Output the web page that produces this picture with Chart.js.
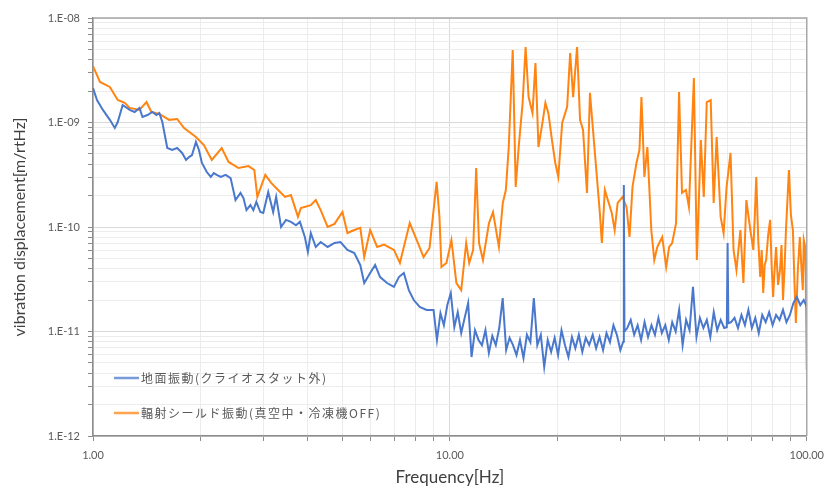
<!DOCTYPE html>
<html>
<head>
<meta charset="utf-8">
<script src="https://cdn.jsdelivr.net/npm/chart.js@4.4.1/dist/chart.umd.min.js"></script>
<style>
html,body{margin:0;padding:0;background:#fff;}
#wrap{width:832px;height:491px;}
</style>
</head>
<body>
<div id="wrap"><canvas id="c" width="832" height="491"></canvas></div>
<script>
// ---- data ----
const seriesNames = ['地面振動(クライオスタット外)', '輻射シールド振動(真空中・冷凍機OFF)'];
const xTickValues = [1, 10, 100];
const yTickValues = [1e-12, 1e-11, 1e-10, 1e-9, 1e-8];

const freqBlue = [1.000,1.026,1.066,1.115,1.151,1.173,1.211,1.267,1.308,1.350,
1.376,1.421,1.467,1.505,1.534,1.564,1.615,1.667,1.721,1.777,
1.823,1.858,1.894,1.943,1.981,2.019,2.084,2.138,2.180,2.222,
2.280,2.353,2.430,2.508,2.590,2.640,2.692,2.761,2.814,2.869,
2.943,3.000,3.097,3.198,3.260,3.365,3.474,3.587,3.705,3.800,
3.923,4.000,4.076,4.209,4.345,4.544,4.751,4.937,5.163,5.399,
5.610,5.754,5.980,6.174,6.375,6.667,6.970,7.196,7.430,7.673,
7.921,8.231,8.605,
9.00,9.20,9.41,9.62,9.84,10.06,10.29,10.52,10.76,11.00,
11.25,11.50,11.76,12.03,12.30,12.58,12.86,13.15,13.45,13.75,
14.06,14.38,14.70,15.03,15.37,15.72,16.08,16.44,16.81,17.19,
17.58,17.98,18.38,18.80,19.22,19.66,20.10,20.55,21.02,21.49,
21.98,22.47,22.98,23.50,24.03,24.57,25.13,25.69,26.27,26.87,
27.47,28.09,28.73,29.37,30.04,30.60,30.72,30.85,31.41,32.12,32.84,33.58,
34.34,35.12,35.91,36.72,37.55,38.40,39.26,40.15,41.06,41.98,
42.93,43.90,44.89,45.91,46.94,48.00,49.09,50.19,51.33,52.49,
53.67,54.88,56.12,57.39,58.69,59.70,60.01,60.30,61.37,62.75,64.17,65.62,
67.10,68.62,70.17,71.75,73.37,75.03,76.73,78.46,80.23,82.04,
83.90,85.79,87.73,89.71,91.73,93.81,95.92,98.09,100.0];
const dispBlue = [2.14e-9,1.64e-9,1.32e-9,1.06e-9,8.86e-10,1.01e-9,1.47e-9,1.32e-9,1.26e-9,1.38e-9,
1.13e-9,1.18e-9,1.26e-9,1.18e-9,1.23e-9,1.01e-9,5.70e-10,5.46e-10,5.70e-10,5.11e-10,
4.38e-10,4.67e-10,4.88e-10,6.51e-10,5.46e-10,4.10e-10,3.36e-10,3.01e-10,3.28e-10,3.15e-10,
3.01e-10,3.15e-10,2.94e-10,1.81e-10,2.12e-10,1.89e-10,1.45e-10,1.62e-10,1.45e-10,1.74e-10,
1.39e-10,1.36e-10,2.16e-10,1.39e-10,1.94e-10,1.0e-10,1.17e-10,1.12e-10,1.04e-10,1.12e-10,
8.02e-11,5.77e-11,8.76e-11,6.44e-11,7.19e-11,6.44e-11,7.03e-11,7.19e-11,6.03e-11,5.64e-11,
4.33e-11,2.91e-11,3.63e-11,4.33e-11,3.32e-11,2.91e-11,2.67e-11,3.32e-11,3.63e-11,2.49e-11,
2.00e-11,1.72e-11,1.61e-11,
1.61e-11,8.3e-12,1.5e-11,1.15e-11,1.8e-11,2.33e-11,1.10e-11,1.53e-11,9.67e-12,1.35e-11,
1.87e-11,5.7e-12,1.03e-11,8.3e-12,7.4e-12,1.03e-11,6.23e-12,9.1e-12,7.4e-12,1.08e-11,
2.09e-11,6.65e-12,8.7e-12,7.4e-12,5.95e-12,8.3e-12,5.58e-12,9.3e-12,7.9e-12,2.09e-11,
7.4e-12,9.3e-12,4.57e-12,8.3e-12,6.37e-12,8.7e-12,5.95e-12,1.03e-11,7.4e-12,5.7e-12,
8.86e-12,6.9e-12,9.3e-12,6.37e-12,8.7e-12,7.4e-12,9.3e-12,6.9e-12,8.86e-12,6.65e-12,
9.67e-12,7.9e-12,1.15e-11,9.3e-12,6.65e-12,8.0e-12,2.52e-10,1.0e-11,1.08e-11,1.29e-11,9.3e-12,1.15e-11,
8.3e-12,1.23e-11,8.86e-12,1.15e-11,9.3e-12,1.35e-11,9.67e-12,1.15e-11,8.3e-12,1.23e-11,
1.0e-11,1.61e-11,7.4e-12,1.29e-11,1.03e-11,2.67e-11,8.86e-12,1.35e-11,1.08e-11,1.29e-11,
8.86e-12,1.53e-11,1.03e-11,1.29e-11,1.08e-11,1.1e-11,7.03e-11,1.2e-11,1.23e-11,1.35e-11,1.08e-11,1.44e-11,
1.15e-11,1.61e-11,1.08e-11,1.35e-11,9.67e-12,1.44e-11,1.23e-11,1.53e-11,1.15e-11,1.44e-11,
1.29e-11,1.61e-11,1.23e-11,1.44e-11,1.87e-11,2.14e-11,1.79e-11,2.0e-11,1.72e-11];

const freqOrange = [1.00,1.046,1.115,1.173,1.227,1.267,1.350,1.412,1.458,1.534,
1.635,1.721,1.800,1.943,2.045,2.152,2.294,2.399,2.557,2.726,
2.832,2.887,3.039,3.157,3.301,3.452,3.587,3.752,3.824,4.076,
4.209,4.345,4.544,4.751,5.000,5.163,5.399,5.610,5.754,5.980,
6.254,6.540,6.970,7.244,7.430,7.720,8.070,8.440,8.770,9.180,
9.350,9.470,9.780,10.10,10.43,10.76,11.11,11.33,11.62,11.85,
12.07,12.38,12.87,13.21,13.72,14.07,14.35,14.62,15.00,15.10,
15.29,15.59,15.99,16.30,16.62,17.04,17.37,17.71,18.17,18.52,
18.88,19.37,19.74,20.13,20.64,21.31,21.73,22.15,22.72,23.16,
23.61,24.22,24.69,25.49,26.32,26.66,27.18,28.42,28.96,29.52,
30.48,31.26,31.87,32.49,33.33,33.98,34.42,35.08,35.76,36.68,
37.39,38.12,39.36,40.38,41.16,41.96,43.04,43.87,44.72,45.87,
46.76,48.28,49.21,50.49,51.46,52.46,53.81,54.85,55.92,57.38,
58.48,59.62,61.16,62.35,63.53,65.18,66.45,67.73,69.49,70.83,
71.53,72.20,73.13,74.07,74.78,75.51,76.23,76.96,77.95,78.96,79.71,80.48,81.25,82.04,83.11,
84.16,84.98,85.79,86.62,87.45,88.29,89.13,90.28,91.45,92.33,93.22,94.41,95.63,96.54,97.48,
98.10,99.00,99.36,100.0];
const dispOrange = [3.47e-9,2.44e-9,2.19e-9,1.64e-9,1.54e-9,1.38e-9,1.32e-9,1.57e-9,1.26e-9,1.21e-9,
1.06e-9,1.08e-9,8.86e-10,7.26e-10,6.09e-10,4.38e-10,5.70e-10,4.19e-10,3.67e-10,3.83e-10,
3.51e-10,1.94e-10,3.15e-10,2.64e-10,2.26e-10,1.94e-10,2.02e-10,1.25e-10,1.52e-10,1.62e-10,
1.81e-10,1.45e-10,1.0e-10,1.07e-10,1.39e-10,8.76e-11,9.36e-11,9.8e-11,5.16e-11,9.36e-11,
6.44e-11,6.8e-11,6.03e-11,4.52e-11,6.44e-11,1.09e-10,7.51e-11,5.16e-11,6.30e-11,2.70e-10,
1.25e-10,4.14e-11,4.52e-11,7.51e-11,2.91e-11,2.49e-11,7.03e-11,4.52e-11,6.03e-11,3.67e-10,
7.03e-11,4.83e-11,1.09e-10,1.39e-10,6.44e-11,1.70e-10,2.26e-10,5.83e-10,4.94e-9,1.75e-9,
2.42e-10,5.83e-10,1.54e-9,5.28e-9,1.75e-9,1.23e-9,3.71e-9,5.83e-10,9.9e-10,1.54e-9,
1.23e-9,6.37e-10,4.10e-10,3.01e-10,9.9e-10,1.41e-9,4.62e-9,1.75e-9,5.28e-9,1.06e-9,
8.48e-10,2.12e-10,1.92e-9,5.11e-10,1.36e-10,7.03e-11,2.26e-10,1.36e-10,9.36e-11,1.70e-10,
1.94e-10,1.55e-10,8.02e-11,2.42e-10,4.10e-10,5.46e-10,1.75e-9,3.01e-10,5.83e-10,9.36e-11,
4.83e-11,6.44e-11,8.02e-11,4.14e-11,6.44e-11,7.03e-11,1.09e-10,1.96e-9,2.12e-10,2.26e-10,
1.55e-10,2.67e-9,4.83e-11,6.80e-10,1.94e-10,1.57e-9,1.64e-9,1.70e-10,7.26e-10,1.25e-10,
8.76e-11,2.42e-10,5.11e-10,6.03e-11,3.88e-11,9.36e-11,2.91e-11,1.81e-10,9.36e-11,6.03e-11,
1.30e-10,3.01e-10,7.51e-11,3.32e-11,6.03e-11,2.34e-11,4.33e-11,4.83e-11,8.37e-11,1.17e-10,4.33e-11,2.14e-11,3.88e-11,6.44e-11,2.79e-11,
3.88e-11,6.73e-11,2.00e-11,3.88e-11,9.36e-11,1.81e-10,3.51e-10,1.30e-10,9.36e-11,3.11e-11,1.21e-11,3.88e-11,8.02e-11,4.33e-11,2.49e-11,
7.51e-11,6.44e-11,3.11e-11,4.28e-12];

// ---- styles ----
const BLUE = '#4A78CC';
const ORANGE = '#FF8412';
const TXT = '#595959';

function isDecade(v){ const l = Math.log10(v); return Math.abs(l - Math.round(l)) < 1e-6; }
function logTicks(lo, hi){
  const out = [];
  const e0 = Math.round(Math.log10(lo)), e1 = Math.round(Math.log10(hi));
  for (let e = e0; e < e1; e++) for (let m = 1; m <= 9; m++) out.push(Number((m * Math.pow(10, e)).toPrecision(3)));
  out.push(hi);
  return out;
}
function toPts(xs, ys){ return xs.map((x, i) => ({x: x, y: ys[i]})); }

const frame = {
  id: 'frame',
  afterDatasetsDraw(chart){
    const a = chart.chartArea, ctx = chart.ctx;
    ctx.save();
    ctx.strokeStyle = '#a8a8a8'; ctx.lineWidth = 1.5;
    ctx.beginPath();
    ctx.moveTo(a.left, a.top); ctx.lineTo(a.right, a.top); ctx.lineTo(a.right, a.bottom);
    ctx.stroke();
    ctx.restore();
  }
};
const innerLegend = {
  id: 'innerLegend',
  afterDraw(chart){
    const a = chart.chartArea, ctx = chart.ctx;
    const rows = [a.bottom - 58, a.bottom - 23];
    ctx.save();
    ctx.font = '12px "Noto Sans CJK JP"';
    ctx.textBaseline = 'middle';
    ctx.fillStyle = TXT;
    try { ctx.letterSpacing = '1.5px'; } catch(e) {}
    chart.data.datasets.forEach((ds, i) => {
      const y = rows[i];
      ctx.strokeStyle = ds.borderColor; ctx.globalAlpha = 0.75; ctx.lineWidth = 2.5;
      ctx.beginPath(); ctx.moveTo(a.left + 21, y); ctx.lineTo(a.left + 46, y); ctx.stroke();
      ctx.globalAlpha = 1;
      ctx.fillText(ds.label, a.left + 48, y);
    });
    ctx.restore();
  }
};

new Chart(document.getElementById('c'), {
  type: 'line',
  data: {
    datasets: [
      { label: seriesNames[0], data: toPts(freqBlue, dispBlue), borderColor: BLUE, backgroundColor: BLUE, borderWidth: 2, pointRadius: 0, tension: 0 },
      { label: seriesNames[1], data: toPts(freqOrange, dispOrange), borderColor: ORANGE, backgroundColor: ORANGE, borderWidth: 2, pointRadius: 0, tension: 0 }
    ]
  },
  options: {
    responsive: false,
    animation: false,
    events: [],
    layout: { padding: { top: 18, right: 18, left: 0, bottom: 0 } },
    plugins: { legend: { display: false }, tooltip: { enabled: false } },
    scales: {
      x: {
        type: 'logarithmic',
        min: xTickValues[0], max: xTickValues[xTickValues.length - 1],
        afterBuildTicks: s => { s.ticks = logTicks(s.min, s.max).map(v => ({value: v})); },
        afterFit: s => { s.height = 55; },
        ticks: {
          autoSkip: false, maxRotation: 0, padding: 8, color: TXT,
          font: { family: 'Lato', size: 11 },
          callback: v => isDecade(v) && xTickValues.includes(Number(v)) ? Number(v).toFixed(2) : ''
        },
        grid: {
          color: c => isDecade(c.tick.value) ? '#d9d9d9' : '#ececec',
          tickColor: '#8c8c8c', tickLength: 5, lineWidth: 1
        },
        border: { display: true, color: '#8c8c8c', width: 1.5 },
        title: { display: true, text: 'Frequency[Hz]', color: '#404040', font: { family: 'Lato', size: 17 }, padding: { top: 0, bottom: 3 } }
      },
      y: {
        type: 'logarithmic',
        min: yTickValues[0], max: yTickValues[yTickValues.length - 1],
        afterBuildTicks: s => { s.ticks = logTicks(s.min, s.max).map(v => ({value: v})); },
        afterFit: s => { s.width = 93; },
        ticks: {
          autoSkip: false, padding: 8, color: TXT,
          font: { family: 'Lato', size: 11 },
          callback: v => {
            if (!isDecade(v)) return '';
            const e = Math.round(Math.log10(v));
            return '1.E' + (e < 0 ? '-' : '+') + String(Math.abs(e)).padStart(2, '0');
          }
        },
        grid: {
          color: c => isDecade(c.tick.value) ? '#d9d9d9' : '#ececec',
          tickColor: '#8c8c8c', tickLength: 5, lineWidth: 1
        },
        border: { display: true, color: '#8c8c8c', width: 1.5 },
        title: { display: true, text: 'vibration displacement[m/rtHz]', color: '#404040', font: { family: 'Lato', size: 16 }, padding: { top: 10, bottom: 0 } }
      }
    }
  },
  plugins: [frame, innerLegend]
});
</script>
</body>
</html>
